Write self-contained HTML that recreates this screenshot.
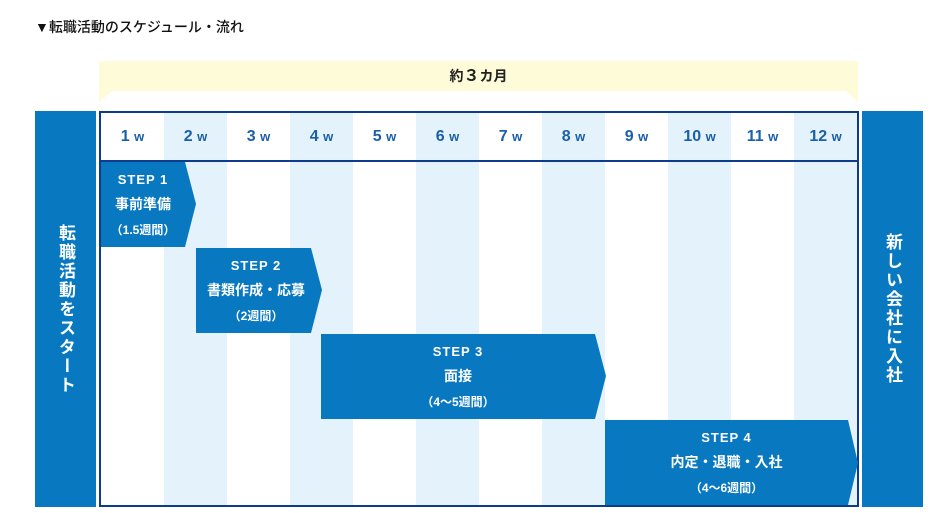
<!DOCTYPE html>
<html><head><meta charset="utf-8"><style>
body{margin:0;width:936px;height:513px;background:#fff;position:relative;overflow:hidden;font-family:"Liberation Sans","Noto Sans CJK JP",sans-serif;}
.a{position:absolute}
.title{left:35px;top:17px;font-size:14px;color:#111;font-weight:500}
.col{position:absolute;top:113px;height:392px;width:63px}
.wk{position:absolute;top:113px;height:47px;width:63px;text-align:center;line-height:47px;font-weight:bold;color:#1a5fa8;font-size:16px}
.wk small{font-size:13px}
.side{position:absolute;top:111px;width:61px;height:396px;background:#0879c1;color:#fff;font-weight:bold;font-size:17px;display:flex;align-items:center;justify-content:center;writing-mode:vertical-rl;letter-spacing:2px}
.st{position:absolute;color:#fff;font-weight:bold;text-align:center;font-size:14px;line-height:25px}
.st b{font-size:13px;letter-spacing:1px}
.st i{font-style:normal;font-size:12px}
</style></head><body>
<div class="a title">▼転職活動のスケジュール・流れ</div>
<svg class="a" style="left:0;top:0" width="936" height="513">
<polygon points="99,61 858,61 858,102 846,91 112,91 99,102" fill="#fdfbd8"/>
</svg>
<div class="a" style="left:99px;top:61px;width:759px;height:30px;text-align:center;line-height:30px;font-weight:bold;font-size:14px;color:#222">約<span style="font-size:16px">３</span>カ月</div>
<div class="side" style="left:35px">転職活動をスタート</div>
<div class="side" style="left:862px">新しい会社に入社</div>
<div class="a" style="left:99px;top:111px;width:756px;height:392px;border:2px solid #0d3c8c"></div>
<div class="col" style="left:164px;background:#e4f2fc"></div>
<div class="col" style="left:290px;background:#e4f2fc"></div>
<div class="col" style="left:416px;background:#e4f2fc"></div>
<div class="col" style="left:542px;background:#e4f2fc"></div>
<div class="col" style="left:668px;background:#e4f2fc"></div>
<div class="col" style="left:794px;background:#e4f2fc"></div>
<div class="a" style="left:101px;top:160px;width:756px;height:2px;background:#0d3c8c"></div>
<div class="wk" style="left:101px">1 <small>w</small></div>
<div class="wk" style="left:164px">2 <small>w</small></div>
<div class="wk" style="left:227px">3 <small>w</small></div>
<div class="wk" style="left:290px">4 <small>w</small></div>
<div class="wk" style="left:353px">5 <small>w</small></div>
<div class="wk" style="left:416px">6 <small>w</small></div>
<div class="wk" style="left:479px">7 <small>w</small></div>
<div class="wk" style="left:542px">8 <small>w</small></div>
<div class="wk" style="left:605px">9 <small>w</small></div>
<div class="wk" style="left:668px">10 <small>w</small></div>
<div class="wk" style="left:731px">11 <small>w</small></div>
<div class="wk" style="left:794px">12 <small>w</small></div>
<svg class="a" style="left:0;top:0" width="936" height="513">
<g fill="#0879c1">
<polygon points="101,162 185,162 196,204 185,247 101,247"/>
<polygon points="196,248 311,248 322,290 311,333 196,333"/>
<polygon points="321,334 595,334 606,376 595,419 321,419"/>
<polygon points="605,420 848,420 858,463 848,505 605,505"/>
</g></svg>
<div class="st" style="left:101px;top:167px;width:84px"><b>STEP 1</b><br>事前準備<br><i>（1.5週間）</i></div>
<div class="st" style="left:196px;top:253px;width:120px"><b>STEP 2</b><br>書類作成・応募<br><i>（2週間）</i></div>
<div class="st" style="left:321px;top:339px;width:274px"><b>STEP 3</b><br>面接<br><i>（4～5週間）</i></div>
<div class="st" style="left:605px;top:425px;width:243px"><b>STEP 4</b><br>内定・退職・入社<br><i>（4～6週間）</i></div>
</body></html>
